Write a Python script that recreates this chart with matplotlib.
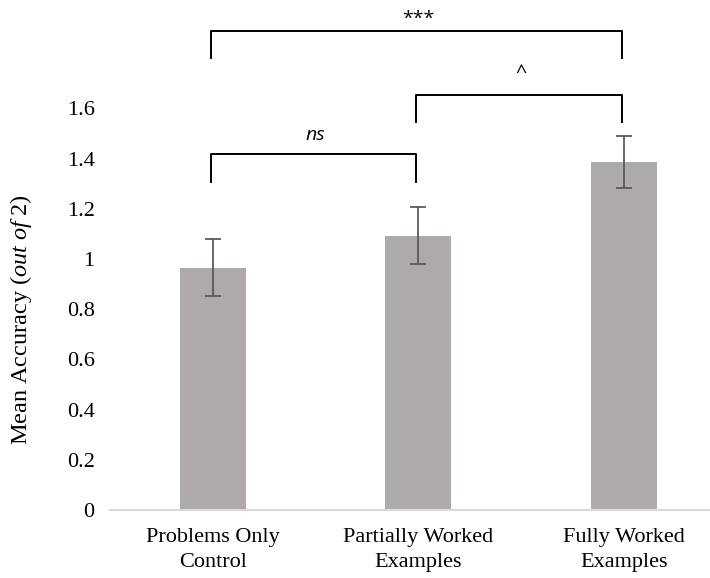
import matplotlib
matplotlib.use("Agg")
import matplotlib.pyplot as plt

categories = ["Problems Only\nControl", "Partially Worked\nExamples", "Fully Worked\nExamples"]
means = [0.965, 1.093, 1.386]
errors = [0.113, 0.113, 0.104]
yticks = [0, 0.2, 0.4, 0.6, 0.8, 1, 1.2, 1.4, 1.6]
ytick_labels = ["0", "0.2", "0.4", "0.6", "0.8", "1", "1.2", "1.4", "1.6"]

# comparisons: (left index, right index, bracket top, bracket bottom, label, label y, italic)
comparisons = [
    (0, 2, 1.908, 1.80, "***", 1.955, False),
    (1, 2, 1.653, 1.546, "^", 1.74, False),
    (0, 1, 1.418, 1.307, "ns", 1.495, True),
]

plt.rcParams["mathtext.fontset"] = "custom"
plt.rcParams["mathtext.rm"] = "Liberation Serif"
plt.rcParams["mathtext.it"] = "Liberation Serif:italic"

fig = plt.figure(figsize=(7.1, 5.78), dpi=100)
ax = fig.add_axes([110/710, 68/578, 600/710, 502/578])

x = list(range(len(categories)))
ax.bar(x, means, width=0.32, color="#aeaaa9", zorder=2)
ax.errorbar(x, means, yerr=errors, fmt="none", ecolor="#5a5a5a", elinewidth=1.3,
            capsize=6, capthick=1.3, zorder=3)

ax.set_ylim(0, 2.0)
ax.set_xlim(-0.5, 2.42)
ax.set_yticks(yticks)
ax.set_yticklabels(ytick_labels, fontfamily="Liberation Serif", fontsize=16)
ax.set_xticks(x)
ax.set_xticklabels(categories, fontfamily="Liberation Serif", fontsize=16, linespacing=1.4)
ax.tick_params(axis="both", length=0)
ax.tick_params(axis="x", pad=13)
ax.tick_params(axis="y", pad=11)

for s in ["top", "right", "left"]:
    ax.spines[s].set_visible(False)
ax.spines["bottom"].set_color("#d9d9d9")
ax.spines["bottom"].set_linewidth(1.5)

ax.set_ylabel(r"Mean Accuracy $\mathit{(out\ of\ 2)}$", fontfamily="Liberation Serif",
              fontsize=17.5)
ax.yaxis.set_label_coords(-0.127, 0.38)

for i, j, top, bot, lab, ly, it in comparisons:
    ax.plot([i - 0.01, i - 0.01, j - 0.01, j - 0.01], [bot, top, top, bot], color="black", lw=1.4,
            clip_on=False, zorder=4)
    ax.text((i + j) / 2, ly, lab, ha="center", va="center", fontsize=14,
            fontfamily="Open Sans", style="italic" if it else "normal", clip_on=False)

fig.savefig("out.png", dpi=100)
